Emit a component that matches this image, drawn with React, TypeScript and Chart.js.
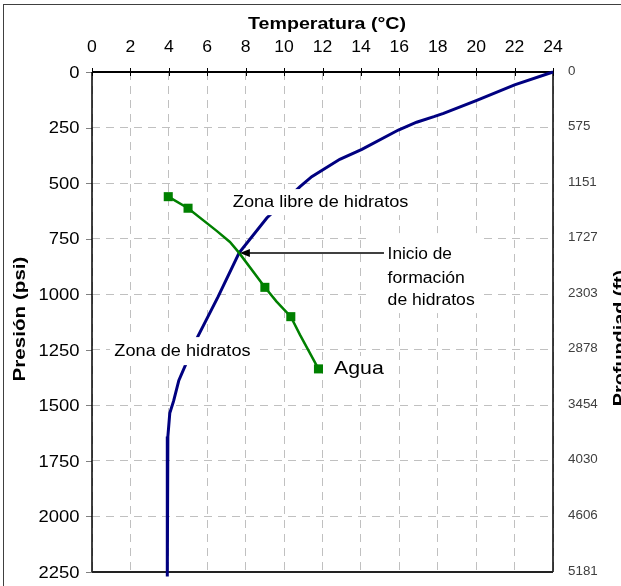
import React, { useEffect, useRef } from "react";
import { Chart, registerables } from "chart.js";

Chart.register(...registerables);

// ---- Data ----
// Geothermal / pressure profile (blue curve): temperature (°C) vs pressure (psi)
const geoTemp = [24, 22, 20, 18.3, 17.8, 16.9, 15.95, 14.05, 12.9, 11.44, 10.83, 9.1, 7.66, 6.56, 5.5, 4.52, 4.25, 4.05, 3.95, 3.92];
const geoPress = [0, 58, 129, 186, 201, 226, 261, 348, 393, 471, 516, 657, 814, 1012, 1192, 1388, 1480, 1535, 1640, 2270];

// Hydrate formation curve for water (green)
const waterTemp = [3.97, 5.0, 6.49, 7.18, 7.66, 9.0, 9.61, 10.35, 10.83, 11.79];
const waterPress = [561, 613, 715, 765, 814, 969, 1033, 1101, 1183, 1336];
const waterMarker = [true, true, false, false, false, true, false, true, false, true];

// Right axis tick labels (depth, ft), top to bottom
const depthLabels = ["0", "575", "1151", "1727", "2303", "2878", "3454", "4030", "4606", "5181"];

// Axis ranges
const tempMin = 0, tempMax = 24, tempStep = 2;
const pressMin = 0, pressMax = 2250, pressStep = 250;

const FONT = '"Liberation Sans", Arial, Helvetica, sans-serif';

function txt(ctx: CanvasRenderingContext2D, s: string, x: number, y: number, size: number, o: any = {}) {
  ctx.save();
  ctx.translate(x, y);
  if (o.rot) ctx.rotate(o.rot);
  ctx.scale(o.sx ?? 1, 1);
  ctx.font = `${o.bold ? "bold " : ""}${size}px ${FONT}`;
  ctx.fillStyle = o.color ?? "#000";
  ctx.textAlign = o.align ?? "left";
  ctx.textBaseline = "alphabetic";
  ctx.fillText(s, 0, 0);
  ctx.restore();
}

const customPlugin = {
  id: "custom",
  beforeDatasetsDraw(chart: any) {
    const { ctx, chartArea: a, scales } = chart;
    const x = scales.x, y = scales.y;
    ctx.save();
    ctx.lineWidth = 1;
    ctx.strokeStyle = "#000";
    x.ticks.forEach((t: any) => {
      const px = Math.round(x.getPixelForValue(t.value)) + 0.5;
      ctx.beginPath(); ctx.moveTo(px, a.top - 4); ctx.lineTo(px, a.top + 4); ctx.stroke();
    });
    ctx.strokeStyle = "#808080";
    y.ticks.forEach((t: any) => {
      const py = Math.round(y.getPixelForValue(t.value)) + 0.5;
      ctx.beginPath(); ctx.moveTo(a.left - 6, py); ctx.lineTo(a.left, py); ctx.stroke();
    });
    ctx.strokeStyle = "#000";
    ctx.lineWidth = 2;
    ctx.beginPath(); ctx.moveTo(a.left, a.top); ctx.lineTo(a.right, a.top); ctx.stroke();
    ctx.lineWidth = 1.5;
    ctx.beginPath(); ctx.moveTo(a.left, a.top); ctx.lineTo(a.left, a.bottom); ctx.stroke();
    ctx.beginPath(); ctx.moveTo(a.right, a.top); ctx.lineTo(a.right, a.bottom); ctx.stroke();
    ctx.strokeStyle = "#222";
    ctx.lineWidth = 2;
    ctx.beginPath(); ctx.moveTo(a.left, a.bottom); ctx.lineTo(a.right, a.bottom); ctx.stroke();
    ctx.restore();
  },
  afterDatasetsDraw(chart: any) {
    const { ctx, chartArea: a, scales } = chart;
    const x = scales.x, y = scales.y;
    const X = (v: number) => x.getPixelForValue(v);
    const Y = (v: number) => y.getPixelForValue(v);
    ctx.save();

    // white text boxes
    const boxes = [
      [7.08, 16.76, 527, 644],
      [0.94, 8.54, 1193, 1319],
      [14.47, 20.3, 725, 1085],
      [12.39, 15.51, 1278, 1386],
    ];
    ctx.fillStyle = "#fff";
    boxes.forEach(([t0, t1, p0, p1]) => {
      ctx.fillRect(X(t0), Y(p0), X(t1) - X(t0), Y(p1) - Y(p0));
    });

    // arrow
    const ay = Y(814);
    const ax0 = X(15.2), ax1 = X(7.7);
    ctx.strokeStyle = "#000";
    ctx.lineWidth = 1.5;
    ctx.beginPath(); ctx.moveTo(ax0, ay); ctx.lineTo(ax1 + 8, ay); ctx.stroke();
    ctx.fillStyle = "#000";
    ctx.beginPath(); ctx.moveTo(ax1, ay); ctx.lineTo(ax1 + 10, ay - 4); ctx.lineTo(ax1 + 10, ay + 4); ctx.closePath(); ctx.fill();

    // annotation texts
    txt(ctx, "Zona libre de hidratos", X(11.9), Y(609), 16.5, { align: "center", sx: 1.1 });
    txt(ctx, "Zona de hidratos", X(4.71), Y(1277), 16.5, { align: "center", sx: 1.1 });
    txt(ctx, "Agua", X(12.6), Y(1359), 19, { sx: 1.12 });
    txt(ctx, "Inicio de", X(15.39), Y(843), 16, { sx: 1.08 });
    txt(ctx, "formación", X(15.39), Y(951), 16, { sx: 1.1 });
    txt(ctx, "de hidratos", X(15.39), Y(1049), 16, { sx: 1.1 });

    // tick labels
    x.ticks.forEach((t: any) => {
      txt(ctx, String(t.value), X(t.value), 52, 16, { align: "center", sx: 1.1 });
    });
    y.ticks.forEach((t: any) => {
      const py = Y(t.value);
      const idx = Math.round((t.value - pressMin) / pressStep);
      txt(ctx, String(t.value), a.left - 12.5, py + 5.8, 16, { align: "right", sx: 1.15 });
      if (depthLabels[idx] !== undefined)
        txt(ctx, depthLabels[idx], a.right + 15, py + 2.5, 12.5, { sx: 1.07, color: "#404040" });
    });

    // axis titles
    txt(ctx, "Temperatura (°C)", (a.left + a.right) / 2 + 4.5, 28.5, 16.5, { align: "center", bold: true, sx: 1.19 });
    txt(ctx, "Presión (psi)", 25, 319, 16.5, { align: "center", bold: true, sx: 1.25, rot: -Math.PI / 2 });
    txt(ctx, "Profundiad (ft)", 625, 338, 16.5, { align: "center", bold: true, sx: 1.2, rot: -Math.PI / 2 });

    // outer border
    ctx.strokeStyle = "#404040";
    ctx.lineWidth = 1;
    ctx.strokeRect(3.5, 4.5, 700, 700);
    ctx.restore();
  },
};

export default function App() {
  const ref = useRef<HTMLCanvasElement>(null);
  useEffect(() => {
    document.body.style.margin = "0";
    const canvas = ref.current!;
    const geo = geoTemp.map((t, i) => ({ x: t, y: geoPress[i] }));
    const water = waterTemp.map((t, i) => ({ x: t, y: waterPress[i] }));
    const gridDash = [8, 6];
    const chart = new Chart(canvas, {
      type: "scatter",
      data: {
        datasets: [
          {
            label: "Agua",
            data: water,
            showLine: true,
            borderColor: "#008000",
            borderWidth: 2.5,
            pointStyle: "rect",
            pointRadius: waterMarker.map((m) => (m ? 6.4 : 0)),
            pointBackgroundColor: "#008000",
            pointBorderColor: "#008000",
            pointBorderWidth: 0,
            tension: 0,
          },
          {
            label: "Perfil",
            data: geo,
            showLine: true,
            borderColor: "#000080",
            borderWidth: 3,
            pointRadius: 0,
            tension: 0,
            clip: false as any,
          },
        ],
      },
      options: {
        animation: false,
        responsive: false,
        devicePixelRatio: 1,
        layout: { padding: { left: 0, right: 0, top: 0, bottom: 14 } },
        plugins: { legend: { display: false }, tooltip: { enabled: false } },
        scales: {
          x: {
            type: "linear",
            position: "top",
            min: tempMin,
            max: tempMax,
            ticks: { stepSize: tempStep, display: false },
            grid: { color: "#c0c0c0", lineWidth: 1, drawTicks: false },
            border: { display: false, dash: gridDash },
            afterFit: (s: any) => { s.height = 72; },
          },
          y: {
            type: "linear",
            position: "left",
            reverse: true,
            min: pressMin,
            max: pressMax,
            ticks: { stepSize: pressStep, display: false },
            grid: { color: "#c0c0c0", lineWidth: 1, drawTicks: false },
            border: { display: false, dash: gridDash },
            afterFit: (s: any) => { s.width = 92; },
          },
          y2: {
            type: "linear",
            position: "right",
            reverse: true,
            min: pressMin,
            max: pressMax,
            ticks: { stepSize: pressStep, display: false },
            grid: { display: false, drawTicks: false },
            border: { display: false },
            afterFit: (s: any) => { s.width = 68; },
          },
        },
      } as any,
      plugins: [customPlugin],
    });
    return () => chart.destroy();
  }, []);
  return (
    <canvas ref={ref} width={621} height={586} style={{ display: "block", width: 621, height: 586 }} />
  );
}
